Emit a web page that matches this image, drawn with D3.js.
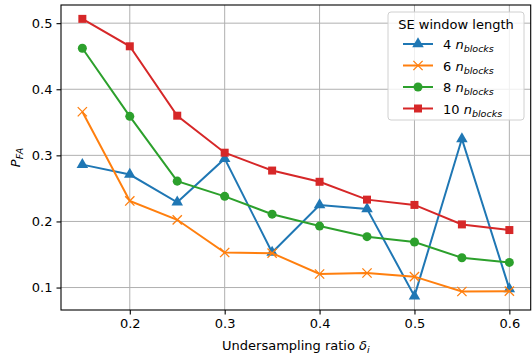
<!DOCTYPE html>
<html>
<head>
<meta charset="utf-8">
<script src="https://cdn.jsdelivr.net/npm/d3@7"></script>
<style>
  body { margin: 0; background: #fff; }
  text { font-family: "DejaVu Sans", sans-serif; }
</style>
</head>
<body>
<div id="chart"></div>
<script>
// undersampling ratios (x)
const ratios = [0.15, 0.2, 0.25, 0.3, 0.35, 0.4, 0.45, 0.5, 0.55, 0.6]
// P_FA per SE window length
const pfa4 = [0.286, 0.271, 0.229, 0.295, 0.153, 0.225, 0.219, 0.087, 0.325, 0.098]
const pfa6 = [0.366, 0.231, 0.2025, 0.153, 0.152, 0.1205, 0.122, 0.1165, 0.094, 0.0945]
const pfa8 = [0.462, 0.359, 0.261, 0.238, 0.211, 0.193, 0.177, 0.169, 0.145, 0.138]
const pfa10 = [0.5065, 0.465, 0.36, 0.304, 0.277, 0.26, 0.233, 0.225, 0.1955, 0.187]
const seriesNames = ["4", "6", "8", "10"]
const xTicks = [0.2, 0.3, 0.4, 0.5, 0.6]
const yTicks = [0.1, 0.2, 0.3, 0.4, 0.5]

const width = 532
const height = 358
const marginTop = 5
const marginRight = 1.3
const marginBottom = 48
const marginLeft = 61

const series = [
    {name: seriesNames[0], values: pfa4, color: "#1f77b4", marker: "triangle"},
    {name: seriesNames[1], values: pfa6, color: "#ff7f0e", marker: "x"},
    {name: seriesNames[2], values: pfa8, color: "#2ca02c", marker: "circle"},
    {name: seriesNames[3], values: pfa10, color: "#d62728", marker: "square"},
]

// matplotlib style 5% margins
const xMin = d3.min(ratios), xMax = d3.max(ratios)
const xPad = (xMax - xMin) * 0.05
const allY = series.flatMap(s => s.values)
const yMin = d3.min(allY), yMax = d3.max(allY)
const yPad = (yMax - yMin) * 0.05

const xScale = d3.scaleLinear([xMin - xPad, xMax + xPad], [marginLeft, width - marginRight])
const yScale = d3.scaleLinear([yMin - yPad, yMax + yPad], [height - marginBottom, marginTop])

const svg = d3.select("#chart")
    .append("svg")
    .attr("width", width)
    .attr("height", height)
    .attr("viewBox", [0, 0, width, height])

// grid
svg.append("g")
    .attr("stroke", "#b0b0b0")
    .attr("stroke-width", 1)
    .call(g => g.selectAll("line.gx").data(xTicks).join("line")
        .attr("x1", d => xScale(d)).attr("x2", d => xScale(d))
        .attr("y1", marginTop).attr("y2", height - marginBottom))
    .call(g => g.selectAll("line.gy").data(yTicks).join("line")
        .attr("x1", marginLeft).attr("x2", width - marginRight)
        .attr("y1", d => yScale(d)).attr("y2", d => yScale(d)))

//X axis
svg.append("g")
    .attr("transform", `translate(0,${height - marginBottom})`)
    .call(d3.axisBottom(xScale).tickValues(xTicks).tickFormat(d3.format(".1f")).tickSize(4.5).tickPadding(4).tickSizeOuter(0))
    .call(g => g.select(".domain").remove())
    .call(g => g.selectAll("text").attr("font-size", 13).attr("fill", "#000"))
    .call(g => g.selectAll("line").attr("stroke", "#000").attr("stroke-width", 1.1))

//Y axis
svg.append("g")
    .attr("transform", `translate(${marginLeft},0)`)
    .call(d3.axisLeft(yScale).tickValues(yTicks).tickFormat(d3.format(".1f")).tickSize(4.5).tickPadding(4).tickSizeOuter(0))
    .call(g => g.select(".domain").remove())
    .call(g => g.selectAll("text").attr("font-size", 13).attr("fill", "#000"))
    .call(g => g.selectAll("line").attr("stroke", "#000").attr("stroke-width", 1.1))

// frame
svg.append("rect")
    .attr("x", marginLeft).attr("y", marginTop)
    .attr("width", width - marginRight - marginLeft)
    .attr("height", height - marginBottom - marginTop)
    .attr("fill", "none").attr("stroke", "#000").attr("stroke-width", 1.1)

const symbolFor = (m, size) => {
    if (m === "triangle") return d3.symbol(d3.symbolTriangle, size * 0.9)()
    if (m === "square") return d3.symbol(d3.symbolSquare, size)()
    if (m === "circle") return d3.symbol(d3.symbolCircle, size)()
    return d3.symbol(d3.symbolX, size * 0.9)()
}

const drawMarker = (g, s, x, y) => {
    const p = g.append("path")
        .attr("transform", `translate(${x},${y})`)
        .attr("d", symbolFor(s.marker, 64))
    if (s.marker === "x") {
        p.attr("fill", "none").attr("stroke", s.color).attr("stroke-width", 1.3)
    } else {
        p.attr("fill", s.color)
    }
}

const line = d3.line().x(d => xScale(d[0])).y(d => yScale(d[1]))

series.forEach(s => {
    const pts = ratios.map((r, i) => [r, s.values[i]])
    const g = svg.append("g")
    g.append("path")
        .attr("d", line(pts))
        .attr("fill", "none")
        .attr("stroke", s.color)
        .attr("stroke-width", 2)
    pts.forEach(p => drawMarker(g, s, xScale(p[0]), yScale(p[1])))
})

// axis labels
svg.append("text")
    .attr("x", (marginLeft + width - marginRight) / 2)
    .attr("y", 350)
    .attr("text-anchor", "middle")
    .attr("font-size", 13)
    .call(t => t.append("tspan").text("Undersampling ratio "))
    .call(t => t.append("tspan").attr("font-style", "italic").text("δ"))
    .call(t => t.append("tspan").attr("font-style", "italic").attr("font-size", 9.5).attr("dy", 3).text("i"))

svg.append("text")
    .attr("transform", `translate(20,${(marginTop + height - marginBottom) / 2}) rotate(-90)`)
    .attr("text-anchor", "middle")
    .attr("font-size", 13)
    .call(t => t.append("tspan").attr("font-style", "italic").text("P"))
    .call(t => t.append("tspan").attr("font-style", "italic").attr("font-size", 9.5).attr("dy", 3).text("FA"))

// legend
const legend = svg.append("g")
legend.append("rect")
    .attr("x", 388).attr("y", 12)
    .attr("width", 136).attr("height", 108)
    .attr("rx", 3)
    .attr("fill", "#fff").attr("fill-opacity", 0.8)
    .attr("stroke", "#d0d0d0").attr("stroke-width", 1)
legend.append("text")
    .attr("x", 456).attr("y", 29)
    .attr("text-anchor", "middle")
    .attr("font-size", 13)
    .text("SE window length")
series.forEach((s, i) => {
    const y = 44 + i * 21.5
    legend.append("line")
        .attr("x1", 403).attr("x2", 433)
        .attr("y1", y).attr("y2", y)
        .attr("stroke", s.color).attr("stroke-width", 2)
    drawMarker(legend, s, 418, y)
    legend.append("text")
        .attr("x", 443).attr("y", y + 5)
        .attr("font-size", 13)
        .call(t => t.append("tspan").text(s.name + " "))
        .call(t => t.append("tspan").attr("font-style", "italic").text("n"))
        .call(t => t.append("tspan").attr("font-style", "italic").attr("font-size", 9.5).attr("dy", 3).text("blocks"))
})
</script>
</body>
</html>
